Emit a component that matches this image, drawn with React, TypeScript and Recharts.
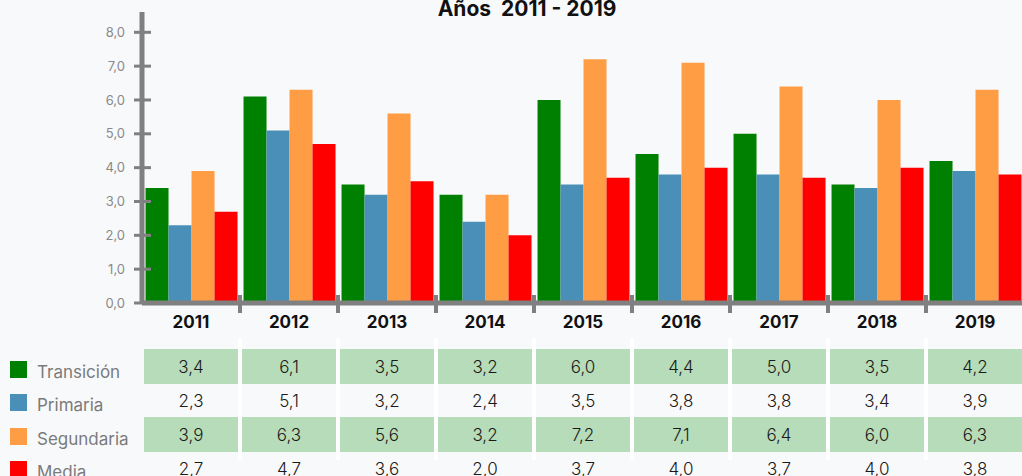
import React from 'react';
import { BarChart, Bar, XAxis, YAxis } from 'recharts';

const years = ['2011', '2012', '2013', '2014', '2015', '2016', '2017', '2018', '2019'];
const transicion = [3.4, 6.1, 3.5, 3.2, 6.0, 4.4, 5.0, 3.5, 4.2];
const primaria = [2.3, 5.1, 3.2, 2.4, 3.5, 3.8, 3.8, 3.4, 3.9];
const segundaria = [3.9, 6.3, 5.6, 3.2, 7.2, 7.1, 6.4, 6.0, 6.3];
const media = [2.7, 4.7, 3.6, 2.0, 3.7, 4.0, 3.7, 4.0, 3.8];
const yTicks = [0, 1, 2, 3, 4, 5, 6, 7, 8];
const title = 'Años\u00a0 2011 - 2019';

const series = [
  { key: 'transicion', name: 'Transición', values: transicion, color: '#008000' },
  { key: 'primaria', name: 'Primaria', values: primaria, color: '#4a8fb7' },
  { key: 'segundaria', name: 'Segundaria', values: segundaria, color: '#ff9d45' },
  { key: 'media', name: 'Media', values: media, color: '#ff0000' },
];

const data = years.map((y, i) => {
  const row: any = { year: y };
  series.forEach((s) => (row[s.key] = s.values[i]));
  return row;
});

const FONT = 'Inter, "Open Sans", sans-serif';
const W = 1040;
const H = 476;
const MR = 16;
const YW = 142;
const XH = 173;
const BAND = (W - MR - YW) / years.length;

const fmt = (v: number) => v.toFixed(1).replace('.', ',');

function XTick(props: any) {
  const { x, y, payload } = props;
  const idx = years.indexOf(String(payload.value));
  const left = x - BAND / 2;
  return (
    <g>
      {idx > 0 && (
        <line x1={left} x2={left} y1={y - 8} y2={y + 10} stroke="#808080" strokeWidth={4} />
      )}
      <text x={x} y={y + 25} textAnchor="middle" fontWeight={700} fontSize={17} fill="#111" fontFamily={FONT}>
        {payload.value}
      </text>
      {series.map((s, i) => {
        const top = y + 46 + i * 34;
        return (
          <g key={s.key}>
            {i % 2 === 0 && <rect x={left + 2} y={top} width={BAND - 4} height={35} fill="#b7dcb9" />}
            <text
              x={x}
              y={top + 18}
              dy="0.35em"
              textAnchor="middle"
              fontSize={17}
              fontWeight={300}
              fill="#1a1a1a"
              fontFamily={FONT}
            >
              {fmt(s.values[idx])}
            </text>
          </g>
        );
      })}
      {idx > 0 && <line x1={left} x2={left} y1={y + 35} y2={y + 157} stroke="#ffffff" strokeWidth={4} />}
    </g>
  );
}

function YTick(props: any) {
  const { y, payload } = props;
  return (
    <g>
      <line x1={YW - 8} x2={YW + 9} y1={y} y2={y} stroke="#808080" strokeWidth={3} />
      <text x={YW - 17} y={y} dy="0.35em" textAnchor="end" fontSize={13} fill="#8a8a8a" fontFamily={FONT}>
        {fmt(payload.value)}
      </text>
    </g>
  );
}

export default function App() {
  return (
    <div
      style={{
        position: 'absolute',
        left: 0,
        top: 0,
        width: 1022,
        height: 476,
        overflow: 'hidden',
        background: '#f8f9fb',
        fontFamily: FONT,
      }}
    >
      <BarChart
        width={W}
        height={H}
        data={data}
        margin={{ top: 12, right: MR, left: 0, bottom: 0 }}
        barCategoryGap="3.6%"
        barGap={0}
      >
        <XAxis
          dataKey="year"
          height={XH}
          axisLine={{ stroke: '#808080', strokeWidth: 5 }}
          tickLine={false}
          tickSize={0}
          tickMargin={0}
          tick={<XTick />}
          interval={0}
        />
        <YAxis
          type="number"
          width={YW}
          domain={[0, 8.6]}
          ticks={yTicks}
          allowDataOverflow
          axisLine={{ stroke: '#808080', strokeWidth: 5 }}
          tickLine={false}
          tickSize={0}
          tickMargin={0}
          tick={<YTick />}
          interval={0}
        />
        {series.map((s) => (
          <Bar key={s.key} dataKey={s.key} name={s.name} fill={s.color} isAnimationActive={false} />
        ))}
      </BarChart>
      <div
        style={{
          position: 'absolute',
          left: 0,
          top: -4,
          width: 1054,
          textAlign: 'center',
          fontSize: 21,
          fontWeight: 700,
          color: '#111',
          whiteSpace: 'pre',
        }}
      >
        {title}
      </div>
      {series.map((s, i) => (
        <div
          key={s.key}
          style={{
            position: 'absolute',
            left: 10,
            top: 361 + i * 33.3,
            height: 17,
            display: 'flex',
            alignItems: 'center',
          }}
        >
          <div style={{ width: 17, height: 17, background: s.color }} />
          <div style={{ marginLeft: 10, fontSize: 17, color: '#7b7b7b', lineHeight: '17px', paddingTop: 6 }}>
            {s.name}
          </div>
        </div>
      ))}
    </div>
  );
}
